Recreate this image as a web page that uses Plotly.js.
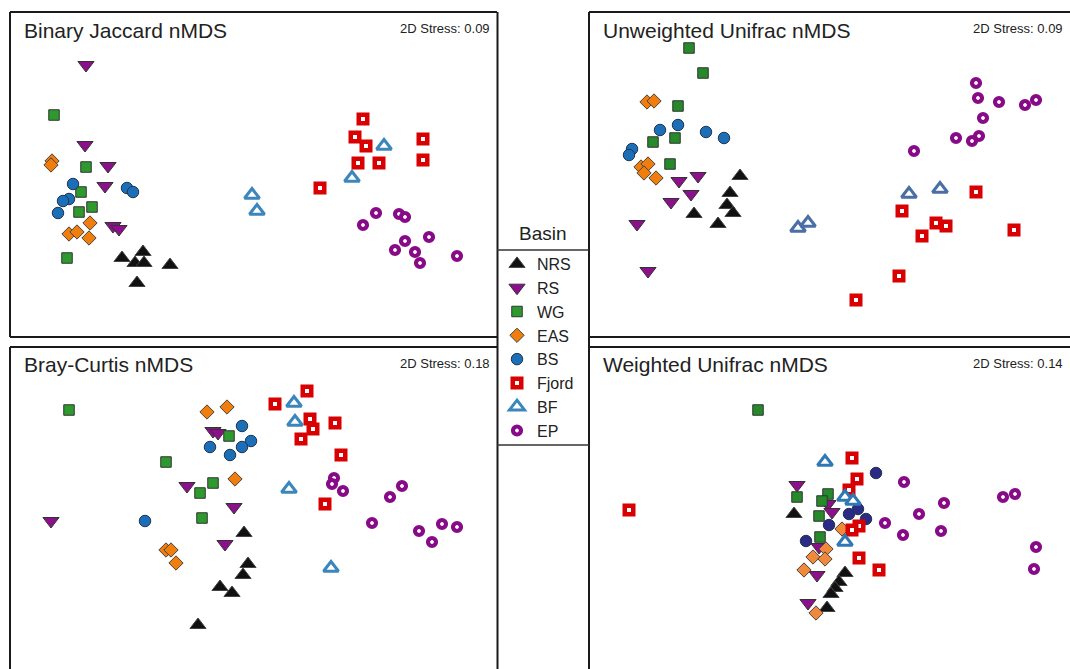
<!DOCTYPE html>
<html>
<head>
<meta charset="utf-8">
<script src="https://cdn.plot.ly/plotly-3.0.1.min.js"></script>
<style>html,body{margin:0;padding:0;background:#fff;}#chart{width:1070px;height:669px;}</style>
</head>
<body>
<div id="chart"></div>
<script>
// ---------- data (nMDS coordinates) ----------
const basins = ['NRS','RS','WG','EAS','BS','Fjord','BF','EP'];
const panelTitles = ['Binary Jaccard nMDS','Unweighted Unifrac nMDS','Bray-Curtis nMDS','Weighted Unifrac nMDS'];
const stressLabels = ['2D Stress: 0.09','2D Stress: 0.09','2D Stress: 0.18','2D Stress: 0.14'];
const legendTitle = 'Basin';

// Binary Jaccard
const jacNRS = [[-1.28,-0.58],[-1.07,-0.52],[-1.15,-0.63],[-1.06,-0.63],[-0.80,-0.65],[-1.13,-0.83]];
const jacRS = [[-1.64,1.35],[-1.65,0.55],[-1.42,0.34],[-1.45,0.14],[-1.37,-0.26],[-1.31,-0.29]];
const jacWG = [[-1.96,0.85],[-1.64,0.33],[-1.69,0.08],[-1.58,-0.07],[-1.71,-0.12],[-1.83,-0.58]];
const jacEAS = [[-1.98,0.39],[-1.99,0.35],[-1.60,-0.23],[-1.81,-0.34],[-1.73,-0.32],[-1.61,-0.38]];
const jacBS = [[-1.77,0.16],[-1.81,0.01],[-1.87,-0.01],[-1.92,-0.13],[-1.23,0.12],[-1.17,0.08]];
const jacFjord = [[1.13,0.81],[1.05,0.63],[1.16,0.54],[1.73,0.61],[1.08,0.37],[1.29,0.37],[1.73,0.40],[0.70,0.12]];
const jacBF = [[1.34,0.54],[1.02,0.22],[0.02,0.05],[0.07,-0.11]];
const jacEP = [[1.26,-0.13],[1.13,-0.25],[1.49,-0.14],[1.55,-0.17],[1.79,-0.37],[1.55,-0.41],[1.45,-0.50],[1.65,-0.52],[1.70,-0.63],[2.07,-0.56]];

// Unweighted Unifrac
const uniNRS = [[-0.90,0.24],[-1.00,0.07],[-1.03,-0.05],[-0.97,-0.13],[-1.36,-0.14],[-1.12,-0.24]];
const uniRS = [[-1.51,0.19],[-1.32,0.24],[-1.39,0.06],[-1.59,-0.02],[-1.93,-0.24],[-1.82,-0.71]];
const uniWG = [[-1.41,1.52],[-1.27,1.27],[-1.52,0.94],[-1.77,0.58],[-1.55,0.62],[-1.60,0.36]];
const uniEAS = [[-1.83,0.98],[-1.76,0.99],[-1.89,0.33],[-1.82,0.36],[-1.86,0.27],[-1.74,0.22]];
const uniBS = [[-1.70,0.70],[-1.52,0.75],[-1.24,0.68],[-1.06,0.62],[-1.98,0.51],[-2.01,0.45]];
const uniFjord = [[1.46,0.08],[0.72,-0.11],[1.06,-0.23],[1.16,-0.26],[0.92,-0.36],[1.84,-0.30],[0.69,-0.76],[0.26,-1.00]];
const uniBF = [[-0.32,-0.28],[-0.22,-0.23],[0.79,0.06],[1.10,0.11]];
const uniEP = [[1.46,1.17],[1.48,1.02],[1.69,0.98],[1.95,0.95],[2.06,1.00],[1.53,0.82],[1.26,0.62],[1.42,0.59],[1.49,0.64],[0.84,0.49]];

// Bray-Curtis
const brayNRS = [[-0.06,-0.33],[-0.02,-0.64],[-0.07,-0.75],[-0.30,-0.87],[-0.18,-0.93],[-0.52,-1.25]];
const brayRS = [[-0.37,0.69],[-0.32,0.67],[-0.63,0.14],[-0.16,-0.07],[-1.99,-0.21],[-0.25,-0.44]];
const brayWG = [[-1.81,0.90],[-0.84,0.38],[-0.37,0.17],[-0.50,0.07],[-0.48,-0.18],[-0.21,0.64]];
const brayEAS = [[-0.43,0.88],[-0.23,0.93],[-0.15,0.21],[-0.84,-0.50],[-0.79,-0.50],[-0.74,-0.63]];
const brayBS = [[-0.08,0.74],[0.01,0.59],[-0.08,0.53],[-0.20,0.45],[-0.40,0.53],[-1.05,-0.21]];
const brayFjord = [[0.57,1.09],[0.25,0.96],[0.60,0.81],[0.63,0.71],[0.51,0.61],[0.85,0.77],[0.91,0.45],[0.75,-0.04]];
const brayBF = [[0.44,0.97],[0.45,0.78],[0.39,0.11],[0.81,-0.68]];
const brayEP = [[0.84,0.22],[0.82,0.16],[0.93,0.09],[1.40,0.03],[1.52,0.14],[1.22,-0.23],[1.69,-0.31],[1.82,-0.42],[1.92,-0.24],[2.07,-0.27]];

// Weighted Unifrac
const wuNRS = [[-0.36,-0.14],[0.15,-0.73],[0.09,-0.82],[0.05,-0.88],[0.01,-0.94],[-0.03,-1.08]];
const wuRS = [[-0.33,0.15],[-0.02,-0.04],[0.02,-0.12],[-0.11,-0.47],[-0.13,-0.75],[-0.22,-1.03]];
const wuWG = [[-0.72,0.90],[-0.33,0.03],[-0.02,0.06],[-0.08,-0.01],[-0.11,-0.16],[-0.10,-0.37]];
const wuEAS = [[0.12,-0.29],[-0.04,-0.49],[-0.17,-0.57],[-0.05,-0.59],[-0.26,-0.70],[-0.14,-1.13]];
const wuBS = [[0.46,0.27],[0.19,-0.14],[0.28,-0.09],[0.36,-0.19],[-0.01,-0.25],[-0.24,-0.41]];
const wuFjord = [[-2.01,-0.10],[0.22,0.42],[0.27,0.21],[0.19,0.10],[0.29,-0.26],[0.22,-0.30],[0.29,-0.58],[0.49,-0.70]];
const wuBF = [[-0.05,0.38],[0.15,0.03],[0.23,-0.01],[0.15,-0.42]];
const wuEP = [[0.74,0.18],[1.14,-0.03],[0.89,-0.14],[0.55,-0.23],[0.73,-0.35],[1.11,-0.31],[1.73,0.03],[1.85,0.06],[2.06,-0.47],[2.04,-0.69]];

// ---------- styling ----------
const W = 1070, H = 669;
const FONT = 'Liberation Sans, Arial, Helvetica, sans-serif';
const X = p => p / W;
const Y = p => 1 - p / H;

const styles = {
  NRS:   {symbol:'triangle-up',   size:14,  color:'#111111', line:{color:'#444', width:1}},
  RS:    {symbol:'triangle-down', size:14,  color:'#8c0f8c', line:{color:'#333', width:1}},
  WG:    {symbol:'square',        size:10.5,color:'#2e9a2e', line:{color:'#333', width:1}},
  EAS:   {symbol:'diamond',       size:11,  color:'#f07d0c', line:{color:'#444', width:1}},
  BS:    {symbol:'circle',        size:11.5,color:'#1a6fb8', line:{color:'#23344f', width:1}},
  Fjord: {symbol:'square',        size:8.5, color:'#ffffff', line:{color:'#d80000', width:4.5}},
  BF:    {symbol:'triangle-up',   size:13,  color:'#ffffff', line:{color:'#3a86bd', width:3}},
  EP:    {symbol:'circle',        size:8,   color:'#ffffff', line:{color:'#870a87', width:4.2}}
};

const panels = [
  {data:[jacNRS,jacRS,jacWG,jacEAS,jacBS,jacFjord,jacBF,jacEP], xr:[-2.40,2.47], yr:[-1.37,1.88],
   dx:[X(10),X(497)], dy:[Y(337),Y(12)]},
  {data:[uniNRS,uniRS,uniWG,uniEAS,uniBS,uniFjord,uniBF,uniEP], xr:[-2.41,2.40], yr:[-1.37,1.88],
   dx:[X(589),1], dy:[Y(337),Y(12)], override:{BF:{line:{color:'#4a6fa5', width:3}}, WG:{color:'#268a2a'}}},
  {data:[brayNRS,brayRS,brayWG,brayEAS,brayBS,brayFjord,brayBF,brayEP], xr:[-2.40,2.47], yr:[-1.69,1.53],
   dx:[X(10),X(497)], dy:[0,Y(347)]},
  {data:[wuNRS,wuRS,wuWG,wuEAS,wuBS,wuFjord,wuBF,wuEP], xr:[-2.41,2.40], yr:[-1.69,1.53],
   dx:[X(589),1], dy:[0,Y(347)], override:{BS:{color:'#2b2a86'}, EAS:{color:'#f08a3a'}, WG:{color:'#268a2a'}, BF:{line:{color:'#2f78b4', width:3}}}}
];

const traces = [];
const layout = {
  width: W, height: H,
  margin: {l:0, r:0, t:0, b:0},
  paper_bgcolor: '#ffffff', plot_bgcolor: 'rgba(0,0,0,0)',
  font: {family: FONT, color: '#222'},
  showlegend: true,
  legend: {x: X(497), y: Y(247), xanchor:'left', yanchor:'top',
           font:{family:FONT, size:16, color:'#222'}, bgcolor:'rgba(0,0,0,0)',
           borderwidth:0, itemclick:false, itemdoubleclick:false},
  shapes: [], annotations: []
};

panels.forEach((p, i) => {
  const ax = i === 0 ? '' : String(i + 1);
  layout['xaxis' + ax] = {domain: p.dx, range: p.xr, visible: false, fixedrange: true, anchor: 'y' + ax};
  layout['yaxis' + ax] = {domain: p.dy, range: p.yr, visible: false, fixedrange: true, anchor: 'x' + ax};
  basins.forEach((b, k) => {
    const st = Object.assign({}, styles[b], (p.override && p.override[b]) || {});
    traces.push({
      type: 'scatter', mode: 'markers', name: b,
      x: p.data[k].map(d => d[0]), y: p.data[k].map(d => d[1]),
      xaxis: 'x' + ax, yaxis: 'y' + ax,
      marker: {symbol: st.symbol, size: st.size, color: st.color, line: st.line},
      showlegend: i === 0, hoverinfo: 'skip'
    });
  });
  // title & stress annotations
  const left = p.dx[0] * W, right = Math.min(p.dx[1] * W, W);
  const top = (1 - p.dy[1]) * H;
  layout.annotations.push({xref:'paper', yref:'paper', x: X(left + 12), y: Y(top + 18),
    xanchor:'left', yanchor:'middle', text: panelTitles[i], showarrow:false,
    font:{family:FONT, size:21, color:'#222'}});
  layout.annotations.push({xref:'paper', yref:'paper', x: X(right - 5), y: Y(top + 16),
    xanchor:'right', yanchor:'middle', text: stressLabels[i], showarrow:false,
    font:{family:FONT, size:13, color:'#222'}});
});

// legend header
layout.annotations.push({xref:'paper', yref:'paper', x: X(543), y: Y(233), xanchor:'center', yanchor:'middle',
  text: legendTitle, showarrow:false, font:{family:FONT, size:19, color:'#222'}});

// frame lines
const line = (x0, y0, x1, y1, w, c) => layout.shapes.push({type:'line', xref:'paper', yref:'paper',
  x0: X(x0), y0: Y(y0), x1: X(x1), y1: Y(y1), line:{color: c || '#1a1a1a', width: w || 2}});
// top-left panel
line(10, 12, 497, 12); line(10, 337, 497, 337); line(10, 12, 10, 337);
// top-right panel
line(589, 12, 1070, 12); line(589, 337, 1070, 337);
// bottom-left panel
line(10, 347, 497, 347); line(10, 347, 10, 669);
// bottom-right panel
line(589, 347, 1070, 347);
// legend column verticals
line(497.5, 12, 497.5, 669); line(589, 12, 589, 669);
// legend separators
line(497, 250, 589, 250, 1.5, '#333'); line(497, 445, 589, 445, 1.5, '#333');

Plotly.newPlot('chart', traces, layout, {displayModeBar:false, staticPlot:true});
</script>
</body>
</html>
